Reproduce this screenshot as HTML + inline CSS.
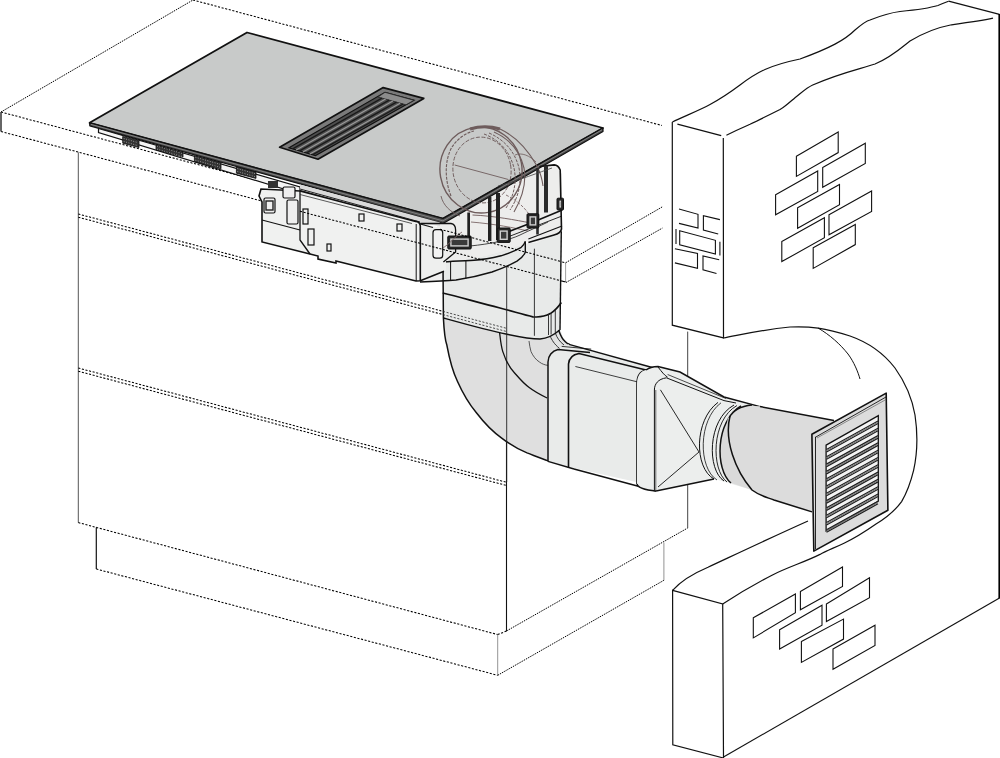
<!DOCTYPE html>
<html><head><meta charset="utf-8"><style>html,body{margin:0;padding:0;background:#fff;width:1000px;height:758px;overflow:hidden}svg{display:block}</style></head>
<body><svg width="1000" height="758" viewBox="0 0 1000 758">
<rect width="1000" height="758" fill="#fff"/>
<line x1="1" y1="112" x2="193" y2="0" stroke="#000" stroke-width="1" stroke-dasharray="1.5 1" fill="none"/>
<line x1="193" y1="0" x2="662" y2="125.5" stroke="#000" stroke-width="1.05" stroke-dasharray="2.1 1.6" fill="none"/>
<line x1="1" y1="112" x2="565.6" y2="262.8" stroke="#000" stroke-width="1.05" stroke-dasharray="2.1 1.6" fill="none"/>
<line x1="1" y1="131.5" x2="565.6" y2="282" stroke="#000" stroke-width="1.05" stroke-dasharray="2.1 1.6" fill="none"/>
<line x1="1" y1="112" x2="1" y2="131.5" stroke="#333" stroke-width="1.5"/>
<line x1="565.6" y1="262.8" x2="565.6" y2="282" stroke="#888" stroke-width="0.8"/>
<line x1="565.6" y1="262.8" x2="662.4" y2="206.8" stroke="#000" stroke-width="1" stroke-dasharray="1.5 1" fill="none"/>
<line x1="566" y1="282.5" x2="662.4" y2="228.1" stroke="#000" stroke-width="1" stroke-dasharray="1.5 1" fill="none"/>
<line x1="78.3" y1="152.3" x2="78.3" y2="522.6" stroke="#555" stroke-width="1" fill="none"/>
<line x1="78.3" y1="214" x2="506.5" y2="328.3" stroke="#000" stroke-width="1.05" stroke-dasharray="2.1 1.6" fill="none"/>
<line x1="78.3" y1="217.2" x2="506.5" y2="331.5" stroke="#000" stroke-width="1.05" stroke-dasharray="2.1 1.6" fill="none"/>
<line x1="78.3" y1="368" x2="506.5" y2="482.3" stroke="#000" stroke-width="1.05" stroke-dasharray="2.1 1.6" fill="none"/>
<line x1="78.3" y1="371.2" x2="506.5" y2="485.5" stroke="#000" stroke-width="1.05" stroke-dasharray="2.1 1.6" fill="none"/>
<line x1="78.3" y1="522.6" x2="497.7" y2="634.6" stroke="#000" stroke-width="1.05" stroke-dasharray="2.1 1.6" fill="none"/>
<line x1="497.7" y1="634.6" x2="506.5" y2="631" stroke="#000" stroke-width="1.05" stroke-dasharray="2.1 1.6" fill="none"/>
<line x1="506.5" y1="282" x2="506.5" y2="631" stroke="#111" stroke-width="1.1"/>
<line x1="506.5" y1="631" x2="687.7" y2="528" stroke="#000" stroke-width="1" stroke-dasharray="1.5 1" fill="none"/>
<line x1="687.7" y1="331.6" x2="687.7" y2="528" stroke="#444" stroke-width="1"/>
<line x1="96.3" y1="527.4" x2="96.3" y2="569" stroke="#111" stroke-width="1.2"/>
<line x1="96.3" y1="569" x2="497.7" y2="675.3" stroke="#000" stroke-width="1.05" stroke-dasharray="2.1 1.6" fill="none"/>
<line x1="497.7" y1="634.6" x2="497.7" y2="675.3" stroke="#777" stroke-width="0.8"/>
<line x1="497.7" y1="675.3" x2="663.9" y2="580.3" stroke="#000" stroke-width="1" stroke-dasharray="1.5 1" fill="none"/>
<line x1="663.9" y1="542.6" x2="663.9" y2="580.3" stroke="#777" stroke-width="0.8"/>
<polygon points="672.4,122 721.6,135.8 723.3,138 723.5,337.9 672.3,325.2" fill="#fff" stroke="none"/>
<polyline points="723.3,138 723.5,337.9 672.3,325.2 672.3,122" fill="none" stroke="#111" stroke-width="1.2"/>
<line x1="677.4" y1="124.2" x2="721.2" y2="135.6" stroke="#111" stroke-width="1.2" fill="none"/>
<path d="M672.4,122 C685,116 700,110 710,104.5 C722,98 732,91 740,85 C748,79 755,74 765,69.5 C775,65 788,61.5 800,59 C830,48 845,40 855,30 C862,24 866,21 870,20 C885,14 892,12.5 900,11.5 C915,10 928,8.5 938,5.5 C942,4 946,2 948.6,1.2" stroke="#111" stroke-width="1.2" fill="none"/>
<line x1="948.6" y1="1.2" x2="999.5" y2="14.3" stroke="#111" stroke-width="1.2" fill="none"/>
<path d="M726.4,135.2 C738,129.5 745,126.5 750,124.3 C760,119.5 772,113.5 780,109.5 C786,106 791,101 795,97.7 C800,94 806,88 812.7,85 C840,73 860,69 875,64 C890,58 900,49 910,41 C925,32 940,27 950.5,25 C965,23 980,21 993,18.2" stroke="#111" stroke-width="1.2" fill="none"/>
<line x1="999.2" y1="14" x2="999.2" y2="598.5" stroke="#000" stroke-width="1.6"/>
<path d="M723.3,338 C740,335 760,330 790,327 C810,326 825,328 850,336 C870,343 885,355 895,368 C905,382 912,398 915,415 C918,435 917,455 913.6,470.3 C910,485 906,494 901.6,501.6 C894,512 886,518 876,524 C866,531 855,538 844,543.2 C834,548 826,551 820,554.4 C805,562 788,567 772,575.2 C755,584 738,594 722.7,604" stroke="#111" stroke-width="1.2" fill="none"/>
<path d="M818,328 C830,335 840,344 848,354 C854,362 858,372 860,379" stroke="#111" stroke-width="1" fill="none"/>
<polygon points="672.6,590.3 722.7,604 723.5,758 672.8,744.8" fill="#fff" stroke="#111" stroke-width="1.2"/>
<path d="M672.6,590.3 C680,582 692,574 708,567.2 C730,557 770,538 808,521" stroke="#111" stroke-width="1.2" fill="none"/>
<line x1="723.5" y1="757" x2="999.5" y2="598" stroke="#111" stroke-width="1.2" fill="none"/>
<polygon points="796.4,156.3 838.2,132 838.2,152.6 796.4,176.4" fill="none" stroke="#111" stroke-width="1.1"/>
<polygon points="822.7,167.6 865.3,143.3 865.3,163.4 822.7,187.2" fill="none" stroke="#111" stroke-width="1.1"/>
<polygon points="775.6,194.7 817.7,170.9 817.7,191.4 775.6,214.7" fill="none" stroke="#111" stroke-width="1.1"/>
<polygon points="797.6,207.7 839.5,184.4 839.5,204.7 797.6,228.3" fill="none" stroke="#111" stroke-width="1.1"/>
<polygon points="829,214.7 871.6,190.9 871.6,211.5 829,234.8" fill="none" stroke="#111" stroke-width="1.1"/>
<polygon points="781.8,241.6 824.4,217.7 824.4,237.8 781.8,261.6" fill="none" stroke="#111" stroke-width="1.1"/>
<polygon points="813.2,247.8 855.3,224.5 855.3,244.6 813.2,268.4" fill="none" stroke="#111" stroke-width="1.1"/>
<polygon points="753.3,617.8 795.4,594 795.4,612.8 753.3,637.9" fill="none" stroke="#111" stroke-width="1.1"/>
<polygon points="800.4,591.5 842.5,567 842.5,586.5 800.4,609.8" fill="none" stroke="#111" stroke-width="1.1"/>
<polygon points="779.6,629.8 822,605.3 822,625.3 779.6,649.1" fill="none" stroke="#111" stroke-width="1.1"/>
<polygon points="826.4,604 869.5,577.7 869.5,597.8 826.4,621.6" fill="none" stroke="#111" stroke-width="1.1"/>
<polygon points="801.4,641.6 843.5,619.1 843.5,639.1 801.4,662.4" fill="none" stroke="#111" stroke-width="1.1"/>
<polygon points="833,649.1 875,625.3 875,645.4 833,669.2" fill="none" stroke="#111" stroke-width="1.1"/>
<polyline points="679,209 698,214.3 698,228 679,223.4" stroke="#111" stroke-width="1.1" fill="none"/>
<polyline points="719.9,219.6 703.4,215.8 703.4,230.1 718.2,234" stroke="#111" stroke-width="1.1" fill="none"/>
<polygon points="679.7,230.8 715.4,240.3 715.4,254 679.7,244.9" stroke="#111" stroke-width="1.1" fill="none"/>
<line x1="676" y1="229" x2="676" y2="244" stroke="#111" stroke-width="1.1" fill="none"/>
<line x1="719.9" y1="241.8" x2="719.9" y2="255.5" stroke="#111" stroke-width="1.1" fill="none"/>
<polyline points="674.9,248.7 697.5,253.4 697.5,268.2 674.9,262.9" stroke="#111" stroke-width="1.1" fill="none"/>
<polyline points="719.2,259.7 703,255.9 703,269.9 716.5,273.5" stroke="#111" stroke-width="1.1" fill="none"/>
<path d="M440.5,219 L539,163.3 L556,165.8 L562,174 L562,231 L538,243 L525.3,241.4 C524.5,244 523,246 520.8,247.7 C516,250.5 510,253 501,255.8 C494,257.5 485,259.5 474,260.3 C465,260.8 455,261 443.4,262 L441,262 L433,257 L432.6,232 L436,228.7 Z" fill="#ededec" stroke="none"/>
<path d="M420,282 C435,281.5 446,281 456,280 C470,278 482,275 492,272 C502,268.5 510,265 517,261.2 C521,258.5 524,255.5 525.3,252.2 L525.3,241.4 C524.5,244 523,246 520.8,247.7 C516,250.5 510,253 501,255.8 C494,257.5 485,259.5 474,260.3 C465,260.8 455,261 443.4,262 L420,270 Z" fill="#efefef" stroke="none"/>
<path d="M443,263 C460,261 480,260 506,250 L525,244 L538,243 L561.3,231.3 L560,302 L560,330 C557,336 556,338 556.6,320 Z" fill="#e6e8e7" stroke="none"/>
<path d="M443,263 L443.4,318 C444,330 445,340 446.9,345.3 C450,362 453,372 457.4,381.2 C464,396 470,405 476.4,412.8 C485,424 493,432 501.7,438.1 C512,446 520,450 527,452.9 C535,456 542,459 548.1,460.9 L548,364 C549,357 552,352 558.7,350.6 L577.7,351.6 C570,350 562,344 558.7,337 L560,330 L561.3,231.3 L538,243 L525,244 C510,250 480,260 443,263 Z" fill="#dfdfdf" stroke="none"/>
<path d="M443,263 L443.4,318 C465,324 490,331 506,334 C520,337 532,339 540,339 C548,338.5 554,335 559.7,330 L561.3,231.3 L538,243 L525,244 C510,250 480,260 443,263 Z" fill="#e8eae9" stroke="none"/>
<path d="M443,263 L443.4,318 C444,330 445,340 446.9,345.3 C450,362 453,372 457.4,381.2 C464,396 470,405 476.4,412.8 C485,424 493,432 501.7,438.1 C512,446 520,450 527,452.9 C535,456 542,459 548.1,460.9" fill="none" stroke="#111" stroke-width="1.5"/>
<line x1="561.3" y1="231.3" x2="560" y2="330" stroke="#111" stroke-width="1.4"/>
<path d="M558.5,330 L560.6,330 C562,336 564,340 566,342.5 C567.5,344 568.5,344.5 569,344.3 L574.3,345.4 L558,352 L548,360 Z" fill="#e2e3e3" stroke="none"/>
<path d="M558.5,330 C560,334 562,339 564.8,341.2 C566.5,343 568,344 569.5,344.3" fill="none" stroke="#111" stroke-width="1.5"/>
<path d="M550,336 C552,340 554,344 559.6,348.5" fill="none" stroke="#222" stroke-width="0.9"/>
<path d="M555.3,333 C557,338 560,342 564,345" fill="none" stroke="#222" stroke-width="0.9"/>
<path d="M443.4,262 C455,261 465,260.8 474,260.3 C485,259.5 494,257.5 501,255.8 C510,253 516,250.5 520.8,247.7 C523,246 524.5,244 525.3,241.4" fill="none" stroke="#111" stroke-width="1.4"/>
<path d="M420,282 C435,281.5 446,281 456,280 C470,278 482,275 492,272 C502,268.5 510,265 517,261.2 C521,258.5 524,255.5 525.3,252.2 L525.3,241.4" fill="none" stroke="#111" stroke-width="1.4"/>
<line x1="450.6" y1="262" x2="450.6" y2="280.5" stroke="#111" stroke-width="1"/>
<line x1="465.9" y1="261" x2="465.9" y2="278.5" stroke="#111" stroke-width="1"/>
<path d="M442.7,293 C460,297 477.5,302.5 500,308 C515,312 525,315 532.8,316.8 C540,317.5 546,316 550.3,313.6 C556,310 559,306 561.3,302.5" fill="none" stroke="#111" stroke-width="1.7"/>
<path d="M443.4,318 C465,324 490,331 506,334 C520,337 532,339 540,339 C548,338.5 554,335 559.7,330" fill="none" stroke="#111" stroke-width="1.5"/>
<line x1="506.7" y1="267" x2="506.7" y2="482" stroke="#222" stroke-width="0.9"/>
<line x1="534.4" y1="248.7" x2="534.4" y2="335.8" stroke="#222" stroke-width="0.9"/>
<line x1="548.5" y1="314" x2="548.5" y2="335" stroke="#222" stroke-width="0.9"/>
<line x1="551.1" y1="313" x2="551.1" y2="334.5" stroke="#222" stroke-width="0.9"/>
<line x1="555.3" y1="310" x2="555.3" y2="333" stroke="#222" stroke-width="0.9"/>
<path d="M499.6,332.7 C500.5,340 501,346 502.8,351.6 C506,362 509,367 514.4,372.7 C519,378 523,383 529.2,387.5 C535,392 541,395 547.1,398" fill="none" stroke="#111" stroke-width="1.3"/>
<path d="M529,341 C529.5,345 530,348 531,351.6 C533,356 536,360 539.7,362.2 C542,364 545,365 548,365.4" fill="none" stroke="#333" stroke-width="0.8"/>
<path d="M548,362 C548,356 552,351 558,349.5 L569,344.3 L654,368 L654,486 L574,468 L548,461.4 Z" fill="#e9ebea" stroke="none"/>
<path d="M548,461.4 L548,362 C548,356 552,351 558,349.5 L590,352.5" fill="none" stroke="#111" stroke-width="1.5"/>
<path d="M561.7,346.4 L591.2,349.1" fill="none" stroke="#222" stroke-width="0.9"/>
<path d="M568.5,467.7 L568.5,364 C569,358 573,354.5 579,353.5 L646,370" fill="none" stroke="#111" stroke-width="1.6"/>
<line x1="569" y1="344.3" x2="654" y2="368" stroke="#111" stroke-width="1.4"/>
<line x1="575.4" y1="366.5" x2="654" y2="386" stroke="#111" stroke-width="0.8"/>
<line x1="548" y1="461.4" x2="574" y2="469" stroke="#111" stroke-width="1.5"/>
<line x1="574" y1="469" x2="656" y2="491" stroke="#111" stroke-width="1.5"/>
<path d="M637,484 L637,384 C637,375 641,371 646,370" fill="none" stroke="#111" stroke-width="1.6"/>
<path d="M646,370 C649,367.5 653,366.5 658,366.4 L680,372 L724,397 L760,406.6 C745,407 734,410 730,416 C726,440 735,470 752,490 L718,480 L714,479 L656,491 C645,490 638,488 637,484 L637,384 C637,375 641,371 646,370 Z" fill="#eceeed" stroke="none"/>
<path d="M646,370 C649,367.5 653,366.5 658,366.4 L680,372 L724,397 L760,406.6" fill="none" stroke="#111" stroke-width="1.5"/>
<path d="M656,491 C645,490 638,488 637,484" fill="none" stroke="#111" stroke-width="1.4"/>
<line x1="656" y1="491" x2="714" y2="479" stroke="#111" stroke-width="1.5"/>
<path d="M654.4,490 L654.4,390 C654.4,384 658,379 666.4,377.8 L724,400.6 L736,403" fill="none" stroke="#111" stroke-width="1"/>
<line x1="655.8" y1="390" x2="655.8" y2="490" stroke="#333" stroke-width="0.7"/>
<path d="M658,367 C662,372 664,375 667.6,377.2" fill="none" stroke="#111" stroke-width="1"/>
<line x1="667.6" y1="374.5" x2="726" y2="398.5" stroke="#222" stroke-width="0.8"/>
<line x1="660.4" y1="389.8" x2="699" y2="452" stroke="#111" stroke-width="0.9"/>
<line x1="699" y1="452" x2="658" y2="487" stroke="#111" stroke-width="0.9"/>
<path d="M741,406 C715,421 715,470 731,483 L752,490 C760,496 766,497 774,500 L812,511.9 L834,420.5 L760,406.6 Z" fill="#dadada" stroke="none"/>
<path d="M718,402.4 C694,420 694,468 714,479" fill="none" stroke="#111" stroke-width="1.0"/>
<path d="M721,402.8 C698,420 698,468 717,480" fill="none" stroke="#111" stroke-width="0.8"/>
<path d="M734,405 C707,420 707,470 724,481" fill="none" stroke="#111" stroke-width="1.0"/>
<path d="M737,405.5 C711,420 711,470 727,482" fill="none" stroke="#111" stroke-width="0.9"/>
<path d="M741,406 C715,421 715,470 731,483" fill="none" stroke="#111" stroke-width="1.5"/>
<path d="M728,416 C735,408 745,406 760,406.6 L834,420.5 L812,511.9 L774,500 C762,496 756,494 752,490 C735,470 724,440 728,416 Z" fill="#dcdcdc" stroke="none"/>
<path d="M760,406.6 L834,420.5" fill="none" stroke="#111" stroke-width="1.5"/>
<path d="M729,418 C733,410 742,406 752,405" fill="none" stroke="#111" stroke-width="1.5"/>
<path d="M730,416 C724,440 735,470 752,490 C760,496 766,497 774,500 L812,511.9" fill="none" stroke="#111" stroke-width="1.5"/>
<polygon points="89.6,122.8 247,32.5 603,128 443,218.5" fill="#c8cac9" stroke="#111" stroke-width="1.8" stroke-linejoin="round"/>
<polygon points="89.6,122.8 443,218.5 603,128 603,131.5 443,223.5 89.8,125.8" fill="#4a4a4a" stroke="#111" stroke-width="1.2" stroke-linejoin="round"/>
<line x1="91" y1="124.4" x2="443" y2="220.9" stroke="#9a9a9a" stroke-width="0.7"/>
<line x1="443" y1="220.9" x2="602" y2="129.8" stroke="#9a9a9a" stroke-width="0.7"/>
<ellipse cx="481" cy="170" rx="41" ry="43" transform="rotate(-10 481 170)" fill="none" stroke="#6e5c5c" stroke-width="1.4"/>
<path d="M451,196 C445,181 444,161 452,147 C458,138 466,133 474,131" fill="none" stroke="#6e5c5c" stroke-width="1.1" stroke-dasharray="3 1.2"/>
<ellipse cx="482" cy="170" rx="29" ry="33" transform="rotate(-10 482 170)" fill="none" stroke="#6e5c5c" stroke-width="0.9" stroke-dasharray="4 1.6"/>
<path d="M470,129 C480,126 490,126 500,129" fill="none" stroke="#6e5c5c" stroke-width="3"/>
<path d="M500,129 C515,136 528,150 537,166 C540,172 542,178 543,186" fill="none" stroke="#6e5c5c" stroke-width="1.1"/>
<path d="M484,134 C500,140 510,152 514,168 C517,182 514,196 506,208" fill="none" stroke="#6e5c5c" stroke-width="1" stroke-dasharray="3 1.3"/>
<path d="M489,133 C505,140 515,152 519,168 C522,184 518,198 510,210" fill="none" stroke="#6e5c5c" stroke-width="1" stroke-dasharray="3 1.3"/>
<path d="M494,132 C510,139 520,152 524,168 C527,184 522,198 514,212" fill="none" stroke="#6e5c5c" stroke-width="1.1"/>
<line x1="454.7" y1="165" x2="508.4" y2="179.5" stroke="#6e5c5c" stroke-width="0.9"/>
<path d="M515,155 C522,152 530,156 536,162" fill="none" stroke="#6e5c5c" stroke-width="0.8"/>
<path d="M441,196 C443,205 450,212 460,216" fill="none" stroke="#6e5c5c" stroke-width="0.9"/>
<polygon points="279.6,147.2 383.2,87.6 423.8,98.4 318,159.2" fill="#7a7a7a" stroke="#111" stroke-width="1.7" stroke-linejoin="round"/>
<polygon points="289,147.8 385,92.3 414,100.3 315.5,155.5" fill="#4e4e4e" stroke="#111" stroke-width="1.2"/>
<polygon points="385,92.3 414,100.3 406,104.8 378,97" fill="#8c8c8c" stroke="#222" stroke-width="0.8"/>
<line x1="292.7" y1="148.9" x2="381.9" y2="98.1" stroke="#1a1a1a" stroke-width="1.5"/>
<line x1="296.2" y1="149.9" x2="385.6" y2="99.1" stroke="#9a9a9a" stroke-width="1.2"/>
<line x1="299.6" y1="150.9" x2="389.2" y2="100.1" stroke="#1a1a1a" stroke-width="1.5"/>
<line x1="303" y1="151.9" x2="392.8" y2="101.1" stroke="#9a9a9a" stroke-width="1.2"/>
<line x1="306.5" y1="152.9" x2="396.5" y2="102.1" stroke="#1a1a1a" stroke-width="1.5"/>
<line x1="309.9" y1="153.9" x2="400.1" y2="103.2" stroke="#9a9a9a" stroke-width="1.2"/>
<line x1="312.9" y1="154.7" x2="403.2" y2="104" stroke="#1a1a1a" stroke-width="1.4"/>
<polygon points="98.5,128.5 300,187 300,194 98.5,132.5" fill="#f4f4f4" stroke="#111" stroke-width="1.2"/>
<polygon points="300,184.5 440,222.5 440,226 420.3,223.5 300,193" fill="#d9d9d9" stroke="none"/>
<line x1="300" y1="189" x2="420" y2="222" stroke="#222" stroke-width="1"/>
<polygon points="122.7,136.5 139,140.9 139,147.6 122.7,143.2" fill="#333" stroke="#111" stroke-width="0.8"/>
<line x1="123.7" y1="138.4" x2="138" y2="142.7" stroke="#bbb" stroke-width="0.8" stroke-dasharray="0.9 1.6"/>
<line x1="123.7" y1="141.4" x2="138" y2="145.7" stroke="#bbb" stroke-width="0.8" stroke-dasharray="0.9 1.6"/>
<polygon points="156,145.5 183,152.7 183,157 156,149.8" fill="#333" stroke="#111" stroke-width="0.8"/>
<line x1="157" y1="146.1" x2="182" y2="153.4" stroke="#bbb" stroke-width="0.8" stroke-dasharray="0.9 1.6"/>
<line x1="157" y1="149.1" x2="182" y2="156.4" stroke="#bbb" stroke-width="0.8" stroke-dasharray="0.9 1.6"/>
<polygon points="194.4,155.7 221,162.8 221,168.8 194.4,161.7" fill="#333" stroke="#111" stroke-width="0.8"/>
<line x1="195.4" y1="157.2" x2="220" y2="164.3" stroke="#bbb" stroke-width="0.8" stroke-dasharray="0.9 1.6"/>
<line x1="195.4" y1="160.2" x2="220" y2="167.3" stroke="#bbb" stroke-width="0.8" stroke-dasharray="0.9 1.6"/>
<polygon points="236.4,166.8 256,172 256,178.4 236.4,173.2" fill="#333" stroke="#111" stroke-width="0.8"/>
<line x1="237.4" y1="168.5" x2="255" y2="173.7" stroke="#bbb" stroke-width="0.8" stroke-dasharray="0.9 1.6"/>
<line x1="237.4" y1="171.5" x2="255" y2="176.7" stroke="#bbb" stroke-width="0.8" stroke-dasharray="0.9 1.6"/>
<line x1="300" y1="190.5" x2="420" y2="224" stroke="#111" stroke-width="1.2"/>
<path d="M420.3,223.5 L446,229 L446,270 L420.3,280.7 Z" fill="#eeefee" stroke="none"/>
<path d="M261,189 L259,196 L262,202 L262,242 L310,254 L318,256 L318,259 L336,263 L336,261 L416,281 L420.3,280.7 L420.3,226 C420,223 418,221.5 415.6,221.4 L300,191 Z" fill="#f0f1f0" stroke="#111" stroke-width="1.6"/>
<path d="M300,191 L300,240 L310,254" fill="none" stroke="#111" stroke-width="1.3"/>
<line x1="262" y1="220" x2="300" y2="230" stroke="#111" stroke-width="1.1"/>
<line x1="300" y1="194.5" x2="412" y2="223.5" stroke="#333" stroke-width="0.8"/>
<line x1="416.2" y1="224" x2="416.2" y2="281" stroke="#111" stroke-width="1"/>
<line x1="420.3" y1="224" x2="433" y2="227.5" stroke="#111" stroke-width="1.2"/>
<line x1="420.3" y1="280.7" x2="444" y2="271.2" stroke="#111" stroke-width="1.5"/>
<rect x="359" y="214" width="5" height="7" fill="none" stroke="#111" stroke-width="1.2"/>
<rect x="397" y="224" width="5" height="7" fill="none" stroke="#111" stroke-width="1.2"/>
<rect x="327" y="244" width="4" height="7" fill="none" stroke="#111" stroke-width="1.2"/>
<rect x="303" y="209" width="5" height="15" fill="none" stroke="#111" stroke-width="1.2"/>
<rect x="308" y="229" width="6" height="16" fill="none" stroke="#111" stroke-width="1.2"/>
<rect x="264" y="198" width="11" height="15" rx="1.5" fill="#eee" stroke="#111" stroke-width="1.2"/>
<rect x="283" y="187" width="12" height="11" rx="1.5" fill="#eee" stroke="#111" stroke-width="1.2"/>
<rect x="287" y="200" width="11" height="24" rx="1.5" fill="#eee" stroke="#111" stroke-width="1.2"/>
<rect x="266" y="201" width="7" height="9" fill="none" stroke="#222" stroke-width="1.4"/>
<rect x="268" y="181" width="10" height="7" fill="#333"/>
<path d="M420.3,223.5 L451,223.5 C454,224 455.6,227 455.6,230 L455.6,252 L443.4,262" fill="none" stroke="#111" stroke-width="1.3"/>
<rect x="433" y="229.7" width="9.7" height="28.5" rx="3" fill="#f2f2f2" stroke="#111" stroke-width="1.2"/>
<path d="M472.5,215 C495,216 515,220 531,223" fill="none" stroke="#7a6666" stroke-width="1"/>
<path d="M471,222 C495,224 515,228 528,231" fill="none" stroke="#7a6666" stroke-width="0.9"/>
<path d="M506,195 C520,202 530,212 535,226" fill="none" stroke="#7a6666" stroke-width="0.9" stroke-dasharray="3 1.5"/>
<path d="M539.5,166.5 L554.2,164.9 C557,165 559,167 560.2,170 L561.5,229 C561,232 558,234 554,235 L528.4,242.4" fill="none" stroke="#111" stroke-width="1.6"/>
<path d="M528.4,239 L562,226" fill="none" stroke="#111" stroke-width="1.1"/>
<rect x="536.2" y="168" width="2.6" height="66.5" fill="#2a2a2a"/>
<rect x="544" y="165.6" width="4.0" height="46.9" fill="#2a2a2a"/>
<rect x="488" y="197" width="3.4" height="44.0" fill="#222"/>
<rect x="496" y="193" width="4.0" height="47.0" fill="#222"/>
<rect x="467.3" y="212.5" width="2.7" height="24.5" fill="#222"/>
<path d="M507.6,232 L531,223 L562.2,210" fill="none" stroke="#111" stroke-width="1.6"/>
<path d="M509,236.5 L531,228 L562,216" fill="none" stroke="#111" stroke-width="0.9"/>
<path d="M470,246 C490,244 510,240 520,235 C530,230 540,226 548,222" fill="none" stroke="#333" stroke-width="0.9"/>
<path d="M498,186 C520,180 540,172 552,168" fill="none" stroke="#444" stroke-width="0.8"/>
<rect x="447.8" y="236" width="23.4" height="13.0" rx="1" fill="#262626" stroke="#111" stroke-width="1"/>
<rect x="450.2" y="238.4" width="18.6" height="8.2" fill="#cfcfcf" stroke="none"/>
<rect x="451.6" y="239.8" width="15.8" height="5.4" fill="#3a3a3a" stroke="none"/>
<rect x="497.2" y="228" width="13.0" height="14.4" rx="1" fill="#262626" stroke="#111" stroke-width="1"/>
<rect x="499.6" y="230.4" width="8.2" height="9.6" fill="#cfcfcf" stroke="none"/>
<rect x="501.0" y="231.8" width="5.4" height="6.8" fill="#3a3a3a" stroke="none"/>
<rect x="527" y="213.8" width="11.8" height="14.2" rx="1" fill="#262626" stroke="#111" stroke-width="1"/>
<rect x="529.4" y="216.2" width="7.0" height="9.4" fill="#cfcfcf" stroke="none"/>
<rect x="530.8" y="217.6" width="4.2" height="6.6" fill="#3a3a3a" stroke="none"/>
<rect x="557" y="198.2" width="6.5" height="11.8" rx="1" fill="#262626" stroke="#111" stroke-width="1"/>
<rect x="559.4" y="200.6" width="1.7" height="7.0" fill="#cfcfcf" stroke="none"/>
<rect x="560.8" y="202.0" width="0.8" height="4.2" fill="#3a3a3a" stroke="none"/>
<path d="M443,248 C450,244 455,236 462,232" fill="none" stroke="#7a6666" stroke-width="0.9"/>
<polygon points="811.9,434.2 886.2,393.1 887.9,510.2 813.8,551.1" fill="#dcdcdc" stroke="#111" stroke-width="1.6" stroke-linejoin="round"/>
<line x1="815.5" y1="437" x2="815.5" y2="549" stroke="#111" stroke-width="0.9"/>
<line x1="815" y1="437.5" x2="886" y2="397" stroke="#111" stroke-width="0.9"/>
<line x1="817" y1="438" x2="886" y2="399.5" stroke="#666" stroke-width="0.7"/>
<polygon points="826.1,445.1 878.3,415.6 878.3,501.2 826.1,531" fill="#f4f4f4" stroke="#111" stroke-width="1.3"/>
<line x1="826.5" y1="449.5" x2="878" y2="421" stroke="#1e1e1e" stroke-width="1.3"/>
<line x1="826.5" y1="452" x2="878" y2="423.5" stroke="#1e1e1e" stroke-width="1.3"/>
<line x1="826.5" y1="450.8" x2="878" y2="422.2" stroke="#777" stroke-width="1.1"/>
<line x1="826.5" y1="456.8" x2="878" y2="428.3" stroke="#1e1e1e" stroke-width="1.3"/>
<line x1="826.5" y1="459.3" x2="878" y2="430.8" stroke="#1e1e1e" stroke-width="1.3"/>
<line x1="826.5" y1="458.1" x2="878" y2="429.6" stroke="#777" stroke-width="1.1"/>
<line x1="826.5" y1="464.1" x2="878" y2="435.6" stroke="#1e1e1e" stroke-width="1.3"/>
<line x1="826.5" y1="466.6" x2="878" y2="438.1" stroke="#1e1e1e" stroke-width="1.3"/>
<line x1="826.5" y1="465.4" x2="878" y2="436.9" stroke="#777" stroke-width="1.1"/>
<line x1="826.5" y1="471.4" x2="878" y2="442.9" stroke="#1e1e1e" stroke-width="1.3"/>
<line x1="826.5" y1="473.9" x2="878" y2="445.4" stroke="#1e1e1e" stroke-width="1.3"/>
<line x1="826.5" y1="472.6" x2="878" y2="444.1" stroke="#777" stroke-width="1.1"/>
<line x1="826.5" y1="478.7" x2="878" y2="450.2" stroke="#1e1e1e" stroke-width="1.3"/>
<line x1="826.5" y1="481.2" x2="878" y2="452.7" stroke="#1e1e1e" stroke-width="1.3"/>
<line x1="826.5" y1="479.9" x2="878" y2="451.4" stroke="#777" stroke-width="1.1"/>
<line x1="826.5" y1="486" x2="878" y2="457.5" stroke="#1e1e1e" stroke-width="1.3"/>
<line x1="826.5" y1="488.5" x2="878" y2="460" stroke="#1e1e1e" stroke-width="1.3"/>
<line x1="826.5" y1="487.2" x2="878" y2="458.8" stroke="#777" stroke-width="1.1"/>
<line x1="826.5" y1="493.3" x2="878" y2="464.8" stroke="#1e1e1e" stroke-width="1.3"/>
<line x1="826.5" y1="495.8" x2="878" y2="467.3" stroke="#1e1e1e" stroke-width="1.3"/>
<line x1="826.5" y1="494.6" x2="878" y2="466.1" stroke="#777" stroke-width="1.1"/>
<line x1="826.5" y1="500.6" x2="878" y2="472.1" stroke="#1e1e1e" stroke-width="1.3"/>
<line x1="826.5" y1="503.1" x2="878" y2="474.6" stroke="#1e1e1e" stroke-width="1.3"/>
<line x1="826.5" y1="501.9" x2="878" y2="473.4" stroke="#777" stroke-width="1.1"/>
<line x1="826.5" y1="507.9" x2="878" y2="479.4" stroke="#1e1e1e" stroke-width="1.3"/>
<line x1="826.5" y1="510.4" x2="878" y2="481.9" stroke="#1e1e1e" stroke-width="1.3"/>
<line x1="826.5" y1="509.1" x2="878" y2="480.6" stroke="#777" stroke-width="1.1"/>
<line x1="826.5" y1="515.2" x2="878" y2="486.7" stroke="#1e1e1e" stroke-width="1.3"/>
<line x1="826.5" y1="517.7" x2="878" y2="489.2" stroke="#1e1e1e" stroke-width="1.3"/>
<line x1="826.5" y1="516.5" x2="878" y2="488" stroke="#777" stroke-width="1.1"/>
<line x1="826.5" y1="522.5" x2="878" y2="494" stroke="#1e1e1e" stroke-width="1.3"/>
<line x1="826.5" y1="525" x2="878" y2="496.5" stroke="#1e1e1e" stroke-width="1.3"/>
<line x1="826.5" y1="523.8" x2="878" y2="495.2" stroke="#777" stroke-width="1.1"/>
<line x1="826.5" y1="529.8" x2="878" y2="501.3" stroke="#1e1e1e" stroke-width="1.3"/>
<line x1="826.5" y1="532.3" x2="878" y2="503.8" stroke="#1e1e1e" stroke-width="1.3"/>
<line x1="826.5" y1="531" x2="878" y2="502.5" stroke="#777" stroke-width="1.1"/>
<line x1="300" y1="211.3" x2="446" y2="250.3" stroke="#000" stroke-width="1.05" stroke-dasharray="2.1 1.6" fill="none"/>
<line x1="440" y1="229.2" x2="561" y2="261.5" stroke="#000" stroke-width="1.05" stroke-dasharray="2.1 1.6" fill="none"/>
<line x1="446" y1="250.3" x2="565.6" y2="282" stroke="#000" stroke-width="1.05" stroke-dasharray="2.1 1.6" fill="none"/>
<line x1="443" y1="311.4" x2="506.5" y2="328.3" stroke="#222" stroke-width="0.8" stroke-dasharray="2.1 1.6" fill="none"/>
<line x1="443" y1="314.6" x2="506.5" y2="331.5" stroke="#222" stroke-width="0.8" stroke-dasharray="2.1 1.6" fill="none"/>
</svg></body></html>
